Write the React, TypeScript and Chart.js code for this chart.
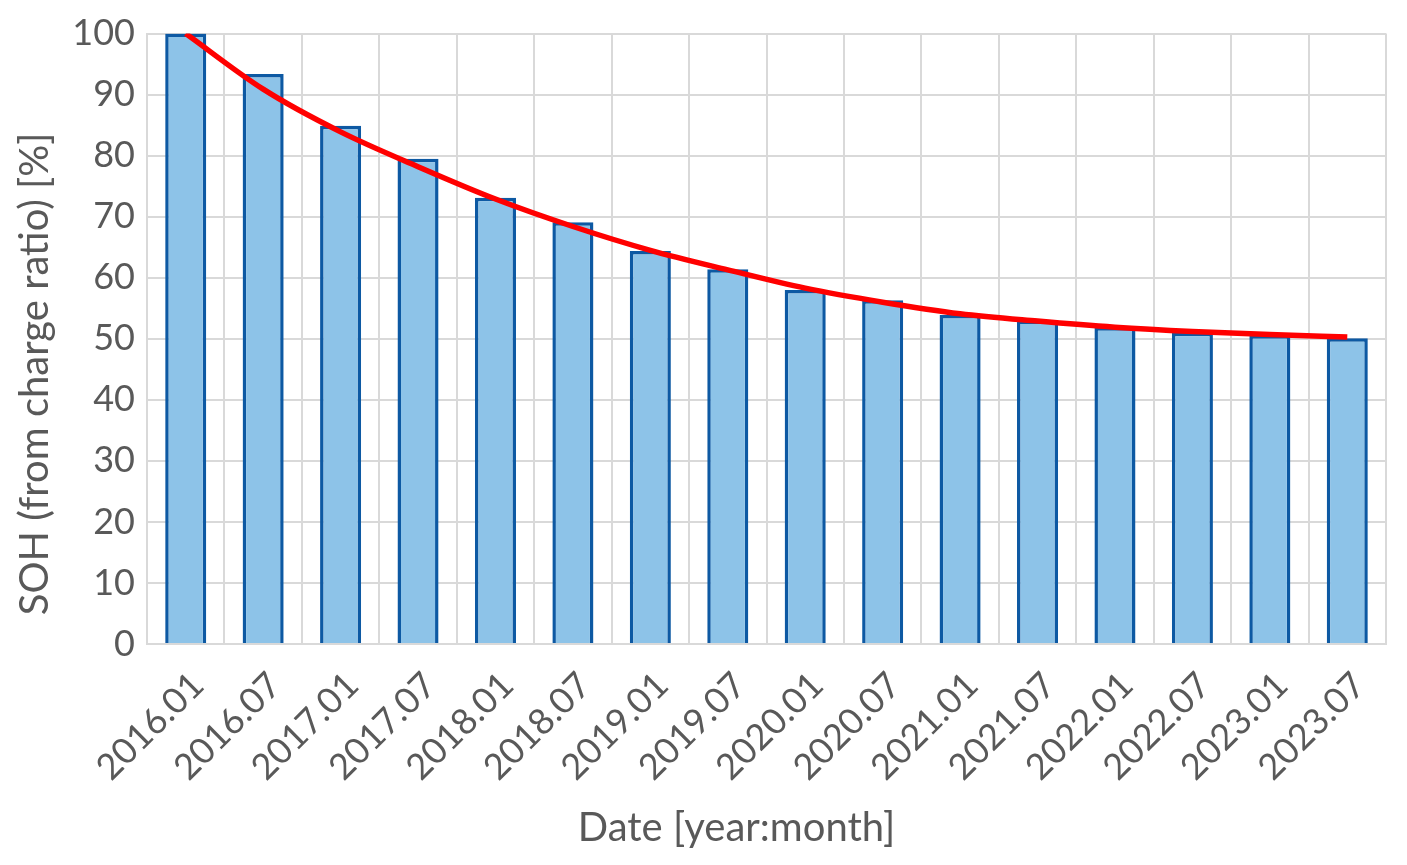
import { useEffect, useRef } from 'react';
import { Chart, registerables } from 'chart.js';

Chart.register(...registerables);

const categories = [
  '2016.01', '2016.07', '2017.01', '2017.07', '2018.01', '2018.07', '2019.01', '2019.07',
  '2020.01', '2020.07', '2021.01', '2021.07', '2022.01', '2022.07', '2023.01', '2023.07'
];

// SOH bars [%]
const sohValues = [100, 93.4, 84.9, 79.5, 73.1, 69.1, 64.4, 61.4, 58.0, 56.3, 53.9, 53.0, 51.9, 51.0, 50.6, 50.1];

// red trend line [%]
const trendValues = [100, 90.9, 83.9, 78.2, 72.9, 68.4, 64.5, 61.3, 58.3, 56.0, 54.1, 52.9, 51.9, 51.2, 50.7, 50.3];

const yTicks = [0, 10, 20, 30, 40, 50, 60, 70, 80, 90, 100];

const xTitle = 'Date [year:month]';
const yTitle = 'SOH (from charge ratio) [%]';

const textColor = '#595959';
const gridColor = '#D9D9D9';
const fontFamily = 'Lato, "Open Sans", sans-serif';

// Excel centres the axis titles on the whole chart, not the plot area
const axisTitles = {
  id: 'axisTitles',
  afterDraw(chart: Chart) {
    const { ctx, chartArea, width, height } = chart;
    ctx.save();
    ctx.fillStyle = textColor;
    ctx.font = `40px ${fontFamily}`;
    ctx.textAlign = 'center';
    ctx.textBaseline = 'middle';
    ctx.fillText(xTitle, chartArea.left + (chartArea.right - chartArea.left) / 2 - 30, height - 37);
    ctx.translate(35, chartArea.top + (chartArea.bottom - chartArea.top) / 2 + 35);
    ctx.rotate(-Math.PI / 2);
    ctx.fillText(yTitle, 0, 0);
    ctx.restore();
  },
};

export default function App() {
  const chartRef = useRef<HTMLCanvasElement>(null);
  const chartInstance = useRef<Chart | null>(null);

  useEffect(() => {
    document.body.style.margin = '0';
    if (!chartRef.current) return;
    if (chartInstance.current) {
      chartInstance.current.destroy();
    }
    const ctx = chartRef.current.getContext('2d');
    if (!ctx) return;

    chartInstance.current = new Chart(ctx, {
      type: 'bar',
      data: {
        labels: categories,
        datasets: [
          {
            type: 'line',
            label: 'Trend',
            data: trendValues,
            borderColor: '#FF0000',
            borderWidth: 5.5,
            pointRadius: 0,
            cubicInterpolationMode: 'monotone',
            fill: false,
            order: 0,
          },
          {
            type: 'bar',
            label: 'SOH',
            data: sohValues,
            backgroundColor: '#8DC3E8',
            borderColor: '#0D59A3',
            borderWidth: 3.5,
            barPercentage: 0.53,
            categoryPercentage: 1,
            order: 1,
          },
        ],
      },
      options: {
        animation: false,
        responsive: true,
        maintainAspectRatio: false,
        layout: { padding: { top: 33, right: 21, left: 0, bottom: 0 } },
        plugins: {
          legend: { display: false },
          tooltip: { enabled: false },
        },
        scales: {
          x: {
            grid: { color: gridColor, lineWidth: 2, drawTicks: false, offset: true },
            border: { color: gridColor, width: 2 },
            ticks: {
              color: textColor,
              font: { family: fontFamily, size: 36 },
              minRotation: 45,
              maxRotation: 45,
              autoSkip: false,
              padding: 20,
              labelOffset: 12,
            },
            afterFit: (scale: any) => {
              scale.height = 221;
            },
          },
          y: {
            min: 0,
            max: 100,
            afterBuildTicks: (scale: any) => {
              scale.ticks = yTicks.map((v) => ({ value: v }));
            },
            grid: { color: gridColor, lineWidth: 2, drawTicks: false },
            border: { color: gridColor, width: 2 },
            ticks: {
              color: textColor,
              font: { family: fontFamily, size: 36 },
              padding: 12,
            },
            afterFit: (scale: any) => {
              scale.width = 147;
            },
          },
        },
      },
      plugins: [axisTitles],
    });

    return () => {
      if (chartInstance.current) {
        chartInstance.current.destroy();
        chartInstance.current = null;
      }
    };
  }, []);

  return (
    <div style={{ width: 1407, height: 865, background: '#fff' }}>
      <canvas ref={chartRef} />
    </div>
  );
}
